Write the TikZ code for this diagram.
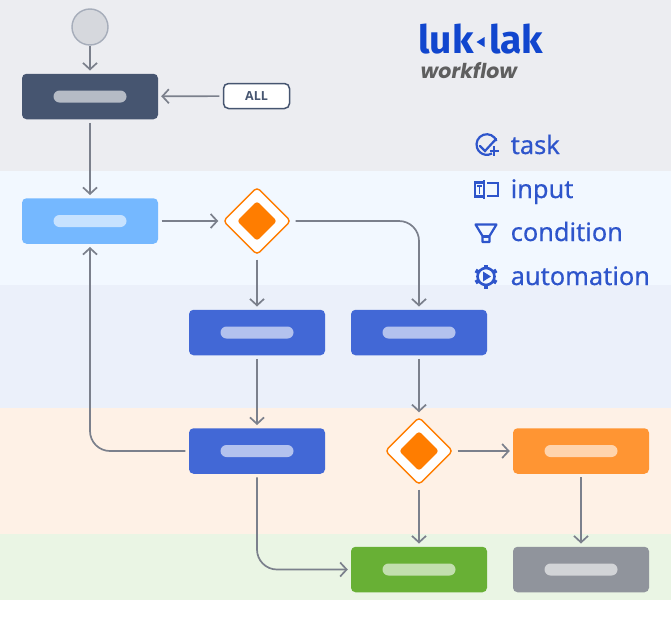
\documentclass[tikz,border=0pt]{standalone}
\usepackage{fontspec}
\usetikzlibrary{arrows.meta,shapes.geometric}
\setmainfont{Noto Sans}
\newfontfamily\logofont{Fira Sans}
\newfontfamily\wffont{Poppins}
\newfontfamily\allfont{Open Sans}
\newfontfamily\legfont{Noto Sans}[FakeBold=0.35]
\definecolor{bandA}{HTML}{ECEDF1}
\definecolor{bandB}{HTML}{F2F8FF}
\definecolor{bandC}{HTML}{EBF0FA}
\definecolor{bandD}{HTML}{FEF1E6}
\definecolor{bandE}{HTML}{EAF5E4}
\definecolor{cdark}{HTML}{465570}
\definecolor{clight}{HTML}{75B8FF}
\definecolor{cblue}{HTML}{4268D6}
\definecolor{corange}{HTML}{FF9533}
\definecolor{cgreen}{HTML}{68B035}
\definecolor{cgrey}{HTML}{90949C}
\definecolor{cdiam}{HTML}{FF7D00}
\definecolor{cline}{HTML}{7B808C}
\definecolor{clogo}{HTML}{1146CE}
\definecolor{ctext}{HTML}{2E55CB}
\definecolor{cwf}{HTML}{5F5F5F}
\definecolor{cstartfill}{HTML}{D6D8DD}
\definecolor{cstartline}{HTML}{A6ADBA}
\tikzset{
  x=1pt,y=-1pt,
  taskbox/.style={draw=none,fill=#1,rounded corners=4.5pt,minimum width=136pt,minimum height=45.5pt,inner sep=0pt},
  pill/.style={fill=white,fill opacity=.6,rounded corners=6pt,minimum width=73pt,minimum height=12pt,inner sep=0pt},
  gate/.style={diamond,draw=cdiam,fill=white,line width=1.4pt,rounded corners=4pt,minimum width=68pt,minimum height=68pt,inner sep=0pt},
  gatecore/.style={diamond,fill=cdiam,rounded corners=3pt,minimum width=40pt,minimum height=40pt,inner sep=0pt},
  link/.style={draw=cline,line width=1.7pt,-{Straight Barb[length=6.5pt,width=14pt,line width=1.7pt]},shorten >=3pt,shorten <=3.5pt},
  legend/.style={font=\legfont\fontsize{25.4}{25.4}\selectfont,text=ctext,anchor=base west,inner sep=0pt},
  ico/.style={draw=ctext,line width=2.2pt},
}
\begin{document}
\begin{tikzpicture}
\useasboundingbox (0,0) rectangle (671,624);
\fill[white] (0,0) rectangle (671,624);
\fill[bandA] (0,0) rectangle (671,171);
\fill[bandB] (0,171) rectangle (671,285);
\fill[bandC] (0,285) rectangle (671,408);
\fill[bandD] (0,408) rectangle (671,534);
\fill[bandE] (0,534) rectangle (671,600);

\node[circle,draw=cstartline,fill=cstartfill,line width=1.4pt,minimum size=36pt,inner sep=0pt] (start) at (90,27) {};
\node[taskbox=cdark] (dark) at (90,96.5) {};
\node[taskbox=clight] (light) at (90,221) {};
\node[taskbox=cblue] (blueA) at (257,332.5) {};
\node[taskbox=cblue] (blueB) at (419,332.5) {};
\node[taskbox=cblue] (blueC) at (257,451) {};
\node[taskbox=corange] (orange) at (581,451) {};
\node[taskbox=cgreen] (green) at (419,569.5) {};
\node[taskbox=cgrey] (grey) at (581,569.5) {};
\foreach \n in {dark,light,blueA,blueB,blueC,orange,green,grey}
  \node[pill] (pill\n) at (\n.center) {};

\node[gate] (gateA) at (257,221) {};
\node[gatecore] (coreA) at (gateA.center) {};
\node[gate] (gateB) at (419,451) {};
\node[gatecore] (coreB) at (gateB.center) {};

\node[draw=cdark,fill=white,line width=1.5pt,rounded corners=5pt,minimum width=66pt,minimum height=25pt,inner sep=0pt,font=\allfont\bfseries\fontsize{12.5}{12.5}\selectfont,text=cdark] (all) at (256.5,96) {ALL};

\draw[link,shorten <=0pt] (start) -- (dark);
\draw[link] (all) -- (dark);
\draw[link] (dark) -- (light);
\draw[link,shorten >=4pt] (light) -- (gateA);
\draw[link,shorten <=4pt] (gateA) -- (blueA);
\draw[link,rounded corners=20pt,shorten <=4pt] (gateA.east) -| (blueB.north);
\draw[link] (blueA) -- (blueC);
\draw[link,shorten >=4pt] (blueB) -- (gateB);
\draw[link,rounded corners=20pt] (blueC.west) -| (light.south);
\draw[link,rounded corners=20pt] (blueC.south) |- (green.west);
\draw[link,shorten <=4pt] (gateB) -- (orange);
\draw[link,shorten <=4pt] (gateB) -- (green);
\draw[link] (orange) -- (grey);

% logo
\node[font=\logofont\bfseries\fontsize{39}{39}\selectfont,text=clogo,anchor=base west,inner sep=0pt] (logoA) at (418,53) {luk};
\node[font=\logofont\bfseries\fontsize{39}{39}\selectfont,text=clogo,anchor=base west,inner sep=0pt] (logoB) at (489,53) {lak};
\fill[clogo] (476.5,42) -- (484.5,37) -- (484.5,47) -- cycle;
\node[font=\wffont\bfseries\itshape\fontsize{20.5}{20.5}\selectfont,text=cwf,anchor=base west,inner sep=0pt] (wf) at (420.5,78) {workflow};

% legend
\node[legend] (ltask) at (510.5,154) {task};
\node[legend] (linput) at (510.5,198) {input};
\node[legend] (lcond) at (510.5,241) {condition};
\node[legend] (lauto) at (510.5,285) {automation};

% task icon
\draw[ico] (496.5,141) arc (-20:-300:10.3) ;
\draw[ico,line cap=round] (480,146) -- (485,151) -- (496,139);
\draw[ico] (489.5,151) -- (499,151) (494.3,146) -- (494.3,156);
% input icon
\draw[ico] (482,183) rectangle (498,196);
\fill[bandB] (474,182) rectangle (487,197);
\draw[ico] (475,182.5) rectangle (484,196.5);
\draw[ico,line width=1.5pt] (484,180) -- (484,199);
\draw[draw=ctext,line width=1.5pt] (477,186) -- (482,186) (479.5,186) -- (479.5,194);
% condition icon
\draw[ico,line join=round] (475.5,224.5) -- (496.5,224.5) -- (489.5,236) -- (489.5,242) -- (482.5,242) -- (482.5,236) -- cycle;
\draw[ico] (482.5,236.5) -- (489.5,236.5);
% automation icon
\draw[draw=ctext,line width=2.6pt] (486,276.5) circle (8.5);
\foreach \a in {0,60,...,300}
  \draw[draw=ctext,line width=4pt] (486,276.5) ++(\a+30:8.5) -- ++(\a+30:3.5);
\fill[ctext] (483,271.5) -- (491,276.5) -- (483,281.5) -- cycle;
\end{tikzpicture}
\end{document}
